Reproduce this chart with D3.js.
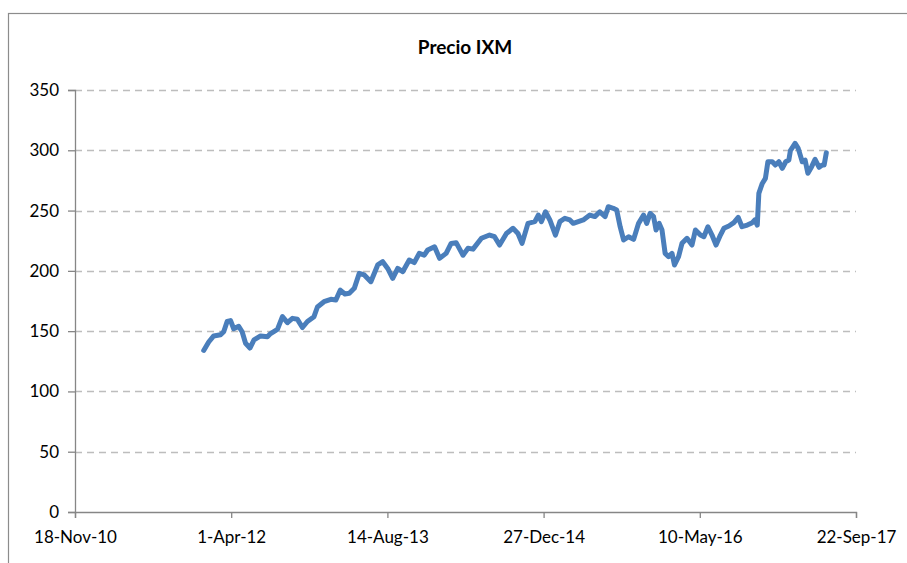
<!DOCTYPE html>
<html>
<head>
<meta charset="utf-8">
<script src="https://cdn.jsdelivr.net/npm/d3@7"></script>
<style>
  body { margin: 0; background: #fff; }
  text { font-family: Lato, "Open Sans", sans-serif; fill: #000; }
</style>
</head>
<body>
<svg id="chart" width="907" height="563"></svg>
<script>
// Chart data
var title = "Precio IXM";
var dates = [
  "2012-01-04","2012-01-20","2012-02-05","2012-02-27","2012-03-08","2012-03-19","2012-03-30","2012-04-09",
  "2012-04-25","2012-05-06","2012-05-17","2012-05-31","2012-06-13","2012-07-04","2012-07-26","2012-08-05",
  "2012-08-27","2012-09-12","2012-09-28","2012-10-14","2012-10-30","2012-11-15","2012-12-01","2012-12-22",
  "2013-01-02","2013-01-23","2013-02-14","2013-03-02","2013-03-16","2013-03-31","2013-04-14","2013-04-30",
  "2013-05-16","2013-06-01","2013-06-22","2013-07-14","2013-07-30","2013-08-15","2013-08-31","2013-09-16",
  "2013-10-02","2013-10-23","2013-11-08","2013-11-24","2013-12-10","2013-12-21","2014-01-12","2014-01-28",
  "2014-02-18","2014-03-06","2014-03-22","2014-04-13","2014-04-29","2014-05-15","2014-06-11","2014-07-07",
  "2014-07-23","2014-08-08","2014-08-30","2014-09-20","2014-10-06","2014-10-19","2014-11-07","2014-11-29",
  "2014-12-10","2014-12-20","2015-01-02","2015-01-16","2015-02-03","2015-02-17","2015-03-05","2015-03-21",
  "2015-04-01","2015-04-17","2015-05-03","2015-05-24","2015-06-09","2015-06-25","2015-07-12","2015-07-22",
  "2015-08-07","2015-08-18","2015-08-29","2015-09-09","2015-09-25","2015-10-11","2015-10-27","2015-11-12",
  "2015-11-22","2015-12-03","2015-12-14","2015-12-22","2016-01-01","2016-01-10","2016-01-20","2016-01-31",
  "2016-02-11","2016-02-19","2016-03-03","2016-03-14","2016-03-30","2016-04-15","2016-04-26","2016-05-12",
  "2016-05-23","2016-06-05","2016-06-18","2016-07-01","2016-07-15","2016-07-26","2016-08-11","2016-08-27",
  "2016-09-10","2016-09-22","2016-10-09","2016-10-25","2016-11-02","2016-11-10","2016-11-15","2016-11-26",
  "2016-12-06","2016-12-14","2016-12-28","2017-01-07","2017-01-18","2017-01-29","2017-02-09","2017-02-19",
  "2017-02-24","2017-03-11","2017-03-21","2017-04-03","2017-04-12","2017-04-21","2017-05-03","2017-05-14",
  "2017-05-27","2017-06-06","2017-06-12","2017-06-19"
];
var prices = [
  134, 141, 146, 147, 149.5, 158, 158.7, 152,
  154, 149.5, 140, 136, 142.7, 146, 145.4, 148,
  151.5, 162, 157, 160.6, 159.8, 153, 158, 162,
  170, 174.4, 176.4, 175.8, 184, 180.8, 181.4, 185.5,
  198, 196.6, 191, 204.9, 207.6, 202, 193.8, 202,
  199.3, 209, 206.8, 214.5, 213, 217.3, 220, 210.4,
  214.5, 222.8, 223.4, 213, 218.7, 218, 227, 229.7,
  228.3, 221.4, 231, 235.3, 231, 222.8, 239.4, 240.8,
  246.3, 240.8, 249, 242.2, 229.7, 240.8, 243.6, 242.2,
  239.4, 240.8, 242.2, 246.3, 245, 249, 245, 253.2,
  251.9, 250.5, 236.6, 225.6, 228.3, 226.1, 239.4, 246.3,
  239.4, 247.7, 245, 233.9, 239.4, 233.9, 214.5, 211.8,
  214.5, 204.9, 211.8, 222.8, 227, 221.4, 233.9, 229.7,
  228.3, 236.6, 229.7, 221.4, 229.7, 235.3, 237.2, 240,
  244.4, 236.6, 238, 240, 242.2, 238, 264.3, 272.5,
  276.7, 290.5, 290.5, 287.8, 290.5, 285, 290.5, 291.9,
  299.7, 305.8, 301.6, 290.5, 291.9, 280.9, 286.4, 292.5,
  285.9, 287.8, 287.8, 298
];
var xTickLabels = ["18-Nov-10", "1-Apr-12", "14-Aug-13", "27-Dec-14", "10-May-16", "22-Sep-17"];
var yTicks = [0, 50, 100, 150, 200, 250, 300, 350];

var parseDate = d3.timeParse("%Y-%m-%d");
var parseTick = d3.timeParse("%d-%b-%y");
var data = dates.map(function(d, i) {
  return { time: parseDate(d), value: prices[i] };
});
var tickDates = xTickLabels.map(function(t) { return parseTick(t); });

// Plot area
var margin = { top: 90, right: 51, bottom: 51, left: 75 };
var width = 907 - margin.left - margin.right;
var height = 563 - margin.top - margin.bottom;

var svg = d3.select("#chart");

// chart border (runs off the right and bottom edge)
svg.append("rect")
  .attr("x", 8.5).attr("y", 13.5)
  .attr("width", 920).attr("height", 580)
  .attr("fill", "none")
  .attr("stroke", "#8c8c8c")
  .attr("stroke-width", 1.2);

svg.append("text")
  .attr("x", 465).attr("y", 54)
  .attr("text-anchor", "middle")
  .style("font-size", "19px")
  .style("font-weight", "bold")
  .text(title);

var g = svg.append("g")
  .attr("transform", "translate(" + margin.left + "," + margin.top + ")");

var x = d3.scaleTime()
  .range([0, width])
  .domain([tickDates[0], tickDates[tickDates.length - 1]]);

var y = d3.scaleLinear()
  .range([height, 0])
  .domain([0, 350]);

// gridlines
g.append("g")
  .selectAll("line")
  .data(yTicks.slice(1))
  .enter().append("line")
  .attr("x1", 0).attr("x2", width)
  .attr("y1", function(d) { return Math.round(y(d)) + 0.5; })
  .attr("y2", function(d) { return Math.round(y(d)) + 0.5; })
  .attr("stroke", "#bdbdbd")
  .attr("stroke-width", 1.3)
  .attr("stroke-dasharray", "7,5");

// axes
var yAxis = g.append("g")
  .call(d3.axisLeft(y).tickValues(yTicks).tickSize(7).tickPadding(9));

var xAxis = g.append("g")
  .attr("transform", "translate(0," + height + ")")
  .call(d3.axisBottom(x).tickValues(tickDates).tickSize(6).tickPadding(13)
    .tickFormat(function(d, i) { return xTickLabels[i]; }));

[xAxis, yAxis].forEach(function(ax) {
  ax.select(".domain").attr("stroke", "#868686").attr("stroke-width", 1.3);
  ax.selectAll(".tick line").attr("stroke", "#868686").attr("stroke-width", 1.3);
  ax.selectAll("text")
    .style("font-family", "Lato, 'Open Sans', sans-serif")
    .style("font-size", "17px")
    .attr("fill", "#000");
});

// price line
var line = d3.line()
  .x(function(d) { return x(d.time); })
  .y(function(d) { return y(d.value); });

g.append("path")
  .datum(data)
  .attr("fill", "none")
  .attr("stroke", "#4a7ebb")
  .attr("stroke-width", 5)
  .attr("stroke-linejoin", "round")
  .attr("stroke-linecap", "round")
  .attr("d", line);
</script>
</body>
</html>
